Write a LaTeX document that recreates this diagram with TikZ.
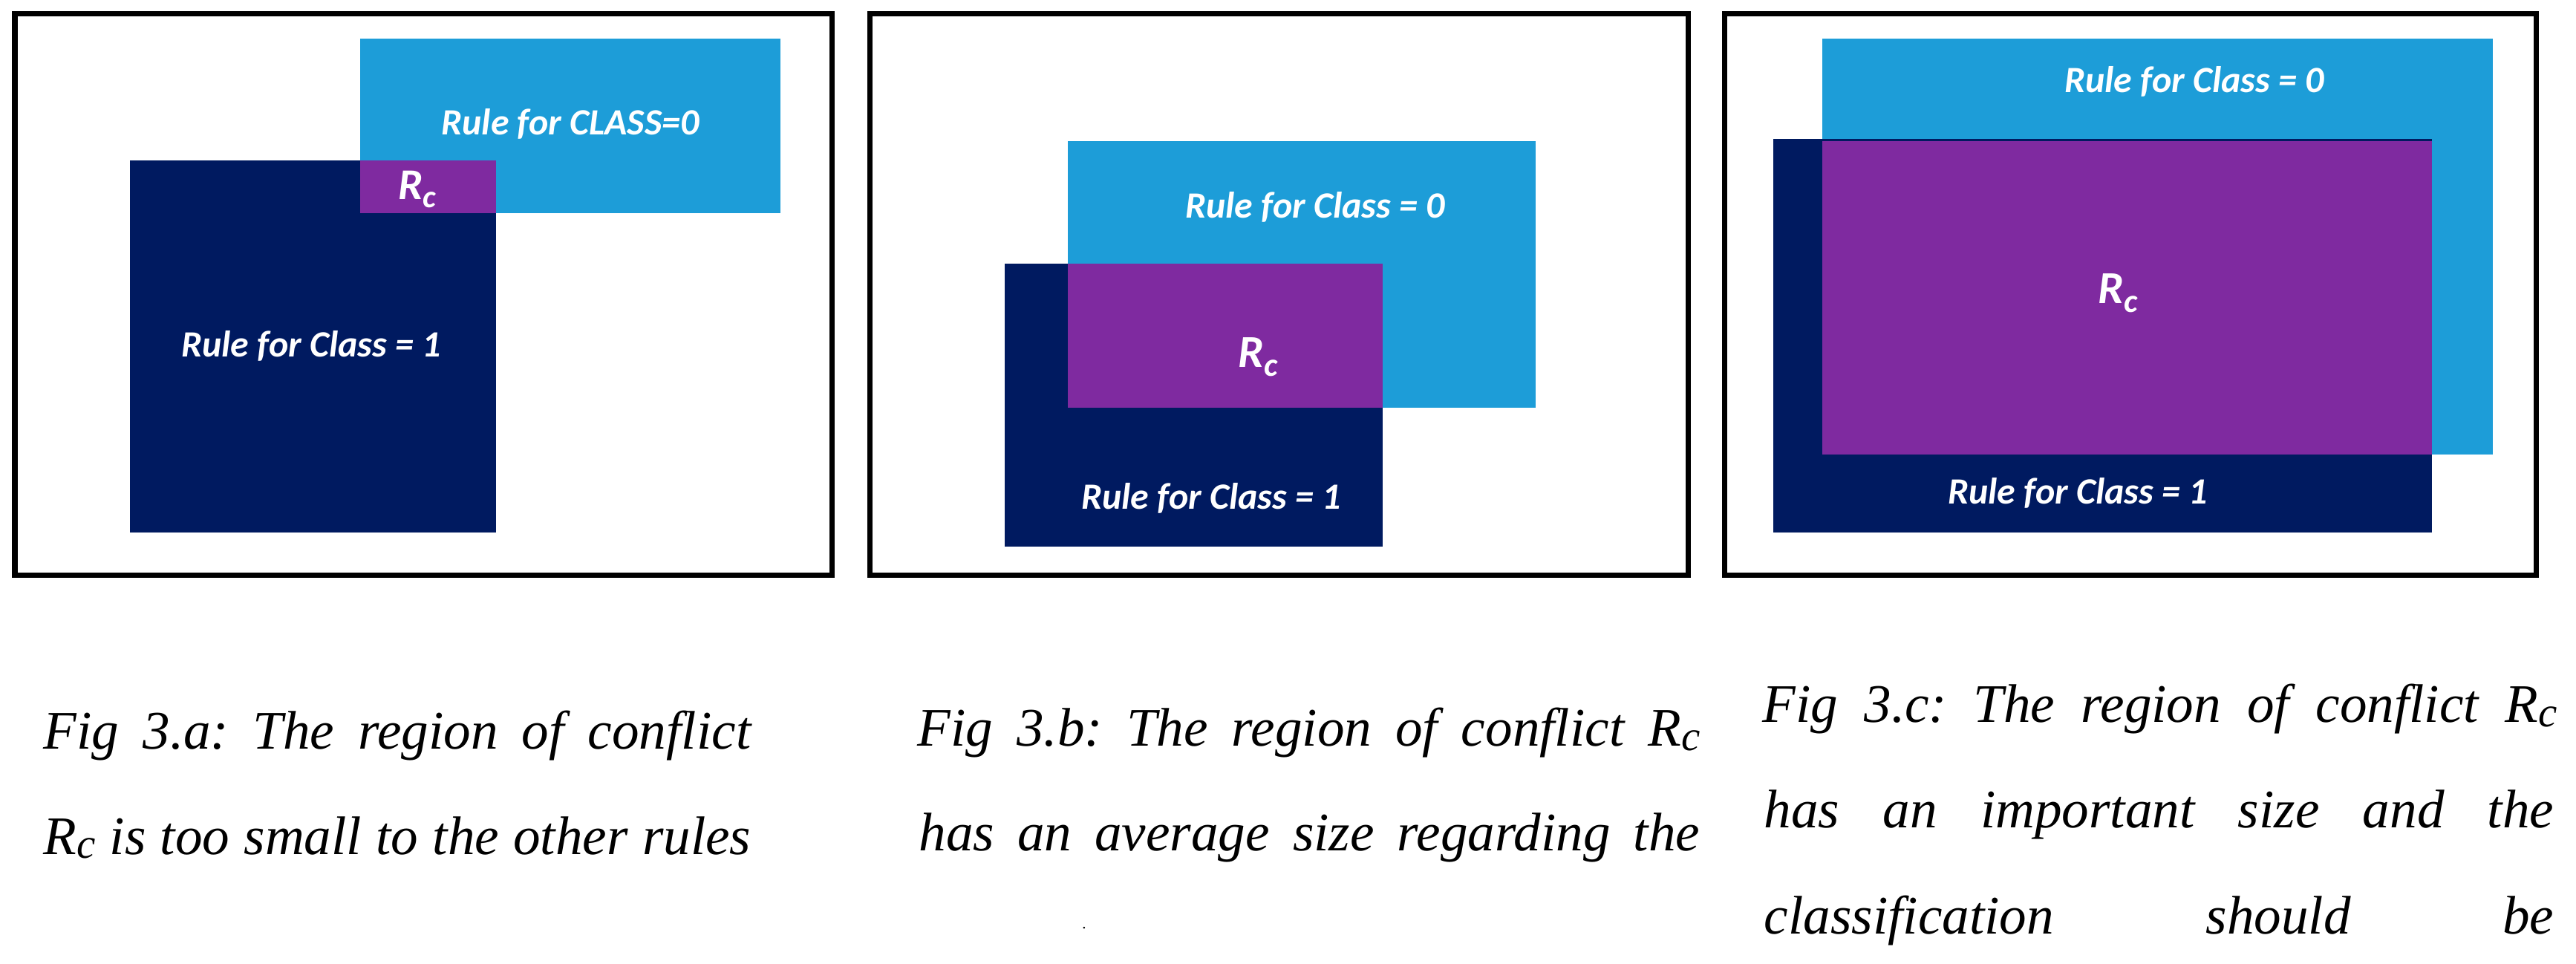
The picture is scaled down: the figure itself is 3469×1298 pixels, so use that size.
\documentclass[tikz,border=0pt]{standalone}
\usepackage{fontspec}
\usepackage{graphicx}
\newfontfamily\capfont{Liberation Serif}
\newfontfamily\boxfont{Carlito}
\definecolor{ruleblue}{RGB}{29,157,216}
\definecolor{rulenavy}{RGB}{0,26,96}
\definecolor{rulepurple}{RGB}{127,42,160}
\newcommand\capRc{R\raisebox{-0.08em}{\scalebox{0.78}{c}}}
\newcommand\boxRc{R\raisebox{-0.18em}{\scalebox{0.72}{c}}}
\frenchspacing
\begin{document}
\begin{tikzpicture}[x=0.01cm,y=-0.01cm,
  frame/.style={draw=black,line width=0.07cm},
  boxlabel/.style={text=white,font=\boxfont\bfseries\itshape\fontsize{14.2}{17}\selectfont,anchor=base,inner sep=0},
  rclabel/.style={text=white,font=\boxfont\bfseries\itshape\fontsize{17.5}{20}\selectfont,anchor=base,inner sep=0},
  capline/.style={anchor=base west,inner sep=0,font=\capfont\itshape\fontsize{20.8}{25}\selectfont}]
\useasboundingbox (0,0) rectangle (3469,1298);
\fill[white] (0,0) rectangle (3469,1298);
% ---------- panel a ----------
\draw[frame] (20,19) rectangle (1120,775);
\fill[ruleblue] (485,52) rectangle (1051,287);
\fill[rulenavy] (175,216) rectangle (668,717);
\fill[rulepurple] (485,216) rectangle (668,287);
\node[boxlabel] (a0) at (768,182) {Rule for CLASS=0};
\node[boxlabel,font=\boxfont\bfseries\itshape\fontsize{16.8}{20}\selectfont] (arc) at (562,269) {\boxRc};
\node[boxlabel] (a1) at (419,481) {Rule for Class = 1};
% ---------- panel b ----------
\draw[frame] (1171,19) rectangle (2273,775);
\fill[ruleblue] (1438,190) rectangle (2068,549);
\fill[rulenavy] (1353,355) rectangle (1862,736);
\fill[rulepurple] (1438,355) rectangle (1862,549);
\node[boxlabel] (b0) at (1771,294) {Rule for Class = 0};
\node[rclabel] (brc) at (1694,495) {\boxRc};
\node[boxlabel] (b1) at (1631,686) {Rule for Class = 1};
% ---------- panel c ----------
\draw[frame] (2322,19) rectangle (3415,775);
\fill[ruleblue] (2454,52) rectangle (3357,612);
\fill[rulenavy] (2388,187) rectangle (3275,717);
\fill[rulepurple] (2454,190) rectangle (3275,612);
\node[boxlabel] (c0) at (2955,125) {Rule for Class = 0};
\node[rclabel] (crc) at (2852,409) {\boxRc};
\node[boxlabel] (c1) at (2798,679) {Rule for Class = 1};
% ---------- captions ----------
\node[capline] (capa1) at (58,1009) {\makebox[9.52cm][s]{Fig 3.a: The region of conflict}};
\node[capline] (capa2) at (58,1150) {\makebox[9.52cm][s]{\capRc{} is too small to the other rules}};
\node[capline] (capb1) at (1235,1005) {\makebox[10.53cm][s]{Fig 3.b: The region of conflict \capRc}};
\node[capline] (capb2) at (1237,1146) {\makebox[10.51cm][s]{has an average size regarding the}};
\node[anchor=base,inner sep=0,font=\capfont\fontsize{6}{7}\selectfont] (bdot) at (1460,1250) {.};
\node[capline] (capc1) at (2373,973) {\makebox[10.69cm][s]{Fig 3.c: The region of conflict \capRc}};
\node[capline] (capc2) at (2375,1115) {\makebox[10.63cm][s]{has an important size and the}};
\node[capline] (capc3) at (2375,1257) {\makebox[10.63cm][s]{classification should be}};
\end{tikzpicture}
\end{document}
